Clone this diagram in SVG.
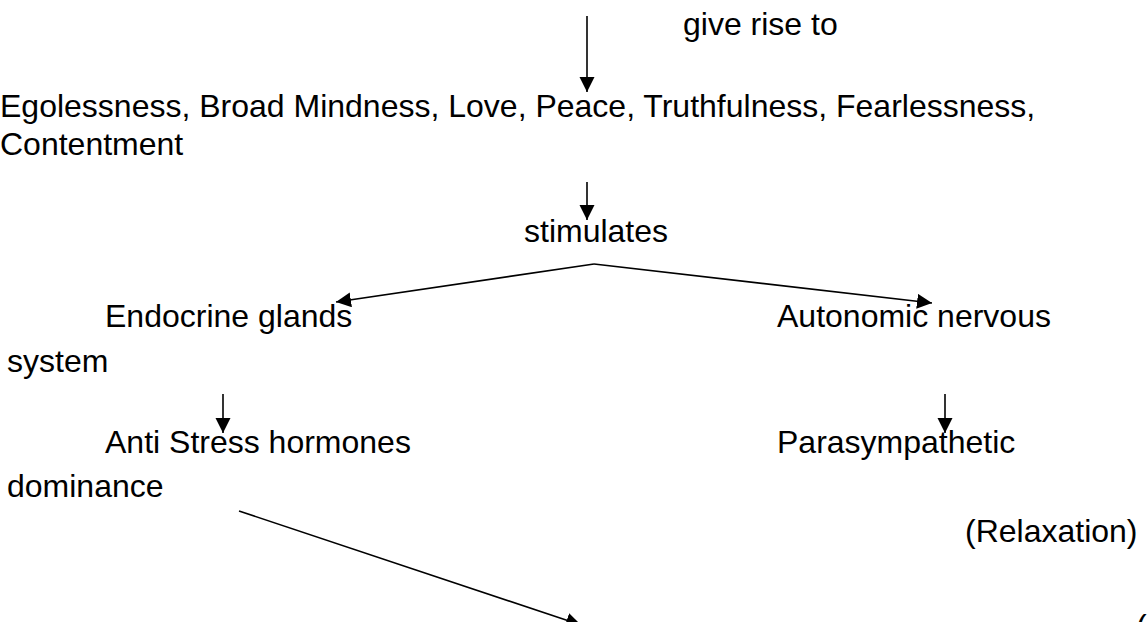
<svg xmlns="http://www.w3.org/2000/svg" width="1148" height="622" viewBox="0 0 1148 622">
<style>
text{font-family:"Liberation Sans",Arial,sans-serif;font-size:32px;fill:#000}
.c line{stroke:#000;stroke-width:1.6;fill:none}
</style>
<defs>
<marker id="ah" markerUnits="userSpaceOnUse" markerWidth="16" markerHeight="16" refX="15" refY="7.5" orient="auto">
<path d="M0,0 L15,7.5 L0,15 Z" fill="#000"/>
</marker>
</defs>
<rect width="1148" height="622" fill="#fff"/>
<g class="c" id="connectors">
<line x1="587" y1="16" x2="587" y2="92" marker-end="url(#ah)"/>
<line x1="587" y1="182" x2="587" y2="220" marker-end="url(#ah)"/>
<line x1="594" y1="264" x2="336" y2="302" marker-end="url(#ah)"/>
<line x1="594" y1="264" x2="932" y2="303" marker-end="url(#ah)"/>
<line x1="223" y1="394" x2="223" y2="433" marker-end="url(#ah)"/>
<line x1="945" y1="394" x2="945" y2="433" marker-end="url(#ah)"/>
<line x1="239" y1="511" x2="581" y2="625" marker-end="url(#ah)"/>
</g>
<g id="label-give"><text x="683" y="35">give rise to</text></g>
<g id="node-values"><text x="0" y="117">Egolessness, Broad Mindness, Love, Peace, Truthfulness, Fearlessness,</text>
<text x="0" y="155">Contentment</text></g>
<g id="label-stimulates"><text x="524" y="242">stimulates</text></g>
<g id="node-endocrine"><text x="105" y="327">Endocrine glands</text></g>
<g id="node-autonomic"><text x="777" y="327">Autonomic nervous</text><text x="7" y="372">system</text></g>
<g id="node-antistress"><text x="105" y="453">Anti Stress hormones</text><text x="7" y="497">dominance</text></g>
<g id="node-parasympathetic"><text x="777" y="453">Parasympathetic</text></g>
<g id="node-relaxation"><text x="965" y="542">(Relaxation)</text></g>
<g id="fragment"><text x="1136" y="637">(</text></g>
</svg>
